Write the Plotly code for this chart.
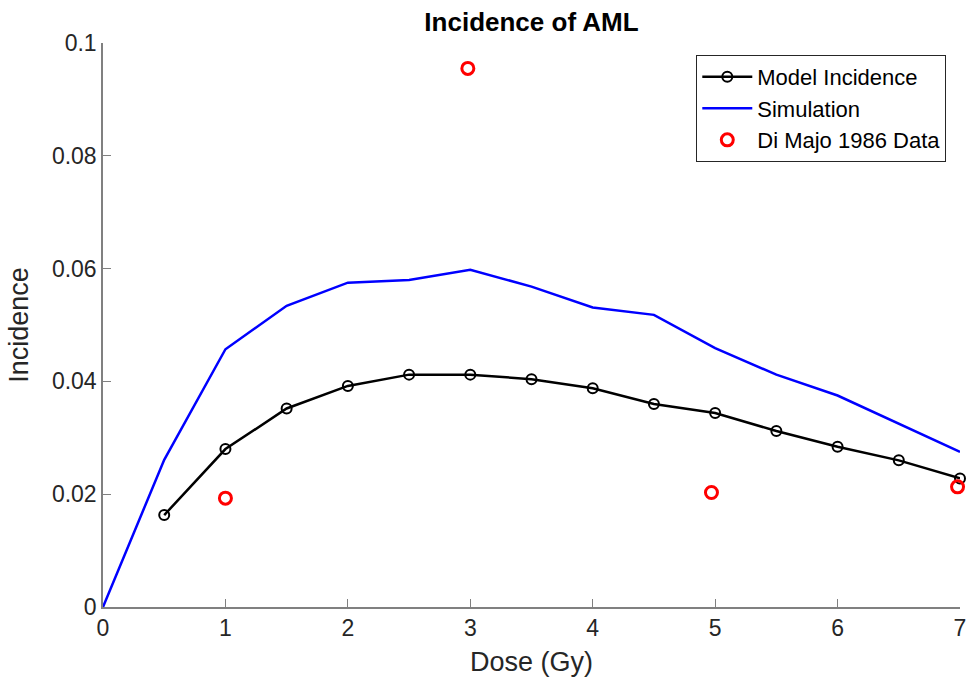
import plotly.graph_objects as go

dose_model = [0.5, 1, 1.5, 2, 2.5, 3, 3.5, 4, 4.5, 5, 5.5, 6, 6.5, 7]
model_inc = [0.0163, 0.0280, 0.0352, 0.0392, 0.0412, 0.0412, 0.0404, 0.0388, 0.0360, 0.0344, 0.0312, 0.0284, 0.0260, 0.0228]

dose_sim = [0, 0.5, 1, 1.5, 2, 2.5, 3, 3.5, 4, 4.5, 5, 5.5, 6, 6.5, 7]
sim_inc = [0.0, 0.0261, 0.0457, 0.0534, 0.0575, 0.0580, 0.0598, 0.0568, 0.0531, 0.0518, 0.0459, 0.0412, 0.0375, 0.0325, 0.0275]

dose_data = [1.0, 2.98, 4.97, 6.98]
data_inc = [0.0193, 0.0955, 0.0203, 0.0213]

x_ticks = [0, 1, 2, 3, 4, 5, 6, 7]
y_ticks = [0, 0.02, 0.04, 0.06, 0.08, 0.1]
y_tick_labels = ["0", "0.02", "0.04", "0.06", "0.08", "0.1"]

font_family = "Liberation Sans, Arial, sans-serif"

fig = go.Figure()
fig.add_trace(go.Scatter(
    x=dose_model, y=model_inc, mode="lines+markers", name="Model Incidence",
    line=dict(color="black", width=2.5),
    marker=dict(symbol="circle-open", size=10, color="black", line=dict(width=2)),
    cliponaxis=False,
))
fig.add_trace(go.Scatter(
    x=dose_sim, y=sim_inc, mode="lines", name="Simulation",
    line=dict(color="#0000ff", width=2.5),
    cliponaxis=False,
))
fig.add_trace(go.Scatter(
    x=dose_data, y=data_inc, mode="markers", name="Di Majo 1986 Data",
    marker=dict(symbol="circle-open", size=12, color="#ff0000", line=dict(width=3)),
    cliponaxis=False,
))

axis_common = dict(
    showgrid=False, zeroline=False, showline=True, linecolor="#808080", linewidth=1.5,
    ticks="inside", ticklen=8, tickcolor="#808080", tickwidth=1,
    tickfont=dict(family=font_family, size=23, color="#262626"),
    mirror=False, automargin=False,
)

fig.update_layout(
    width=967, height=684,
    margin=dict(l=103, r=7, t=43, b=77),
    paper_bgcolor="white", plot_bgcolor="white",
    font=dict(family=font_family, color="#262626"),
    title=dict(text="<b>Incidence of AML</b>", x=0.5, xanchor="center", y=0.968, yanchor="middle",
               xref="paper", font=dict(family=font_family, size=26, color="black")),
    xaxis=dict(range=[0, 7], tickvals=x_ticks, **axis_common,
               title=dict(text="Dose (Gy)", font=dict(family=font_family, size=27, color="#262626"), standoff=12)),
    yaxis=dict(range=[0, 0.1], tickvals=y_ticks, ticktext=y_tick_labels, **axis_common,
               title=dict(text="Incidence", font=dict(family=font_family, size=27, color="#262626"), standoff=15)),
    legend=dict(x=0.984, y=0.979, xanchor="right", yanchor="top",
                bgcolor="white", bordercolor="#262626", borderwidth=1,
                font=dict(family=font_family, size=22, color="black"),
                tracegroupgap=0, itemwidth=50),
    showlegend=True,
)

fig.write_html("out.html")
